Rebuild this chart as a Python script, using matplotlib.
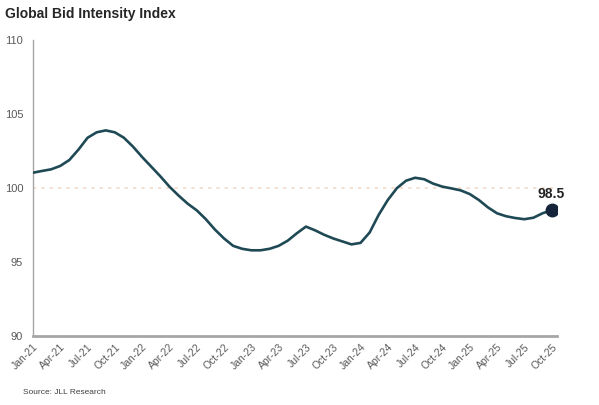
import matplotlib
matplotlib.use("Agg")
import matplotlib.pyplot as plt
import numpy as np

plt.rcParams['font.family'] = ['Liberation Sans', 'DejaVu Sans']

# Monthly index values, Jan-21 .. Oct-25
values = [101.04, 101.16, 101.27, 101.5, 101.9, 102.6, 103.4, 103.77, 103.9, 103.77,
          103.4, 102.8, 102.1, 101.45, 100.8, 100.1, 99.5, 98.95, 98.5, 97.9,
          97.2, 96.6, 96.1, 95.9, 95.8, 95.8, 95.9, 96.1, 96.45, 96.95,
          97.4, 97.15, 96.85, 96.6, 96.4, 96.2, 96.3, 97.0, 98.2, 99.2,
          100.0, 100.5, 100.7, 100.6, 100.3, 100.1, 99.98, 99.85, 99.6, 99.2,
          98.7, 98.3, 98.1, 97.98, 97.9, 98.0, 98.3, 98.5]
tick_labels = ['Jan-21', 'Apr-21', 'Jul-21', 'Oct-21', 'Jan-22', 'Apr-22', 'Jul-22', 'Oct-22',
               'Jan-23', 'Apr-23', 'Jul-23', 'Oct-23', 'Jan-24', 'Apr-24', 'Jul-24', 'Oct-24',
               'Jan-25', 'Apr-25', 'Jul-25', 'Oct-25']
yticks = [90, 95, 100, 105, 110]
baseline = 100
last_label = '98.5'

x = np.arange(len(values))

fig = plt.figure(figsize=(5.99, 4.05), dpi=100)
ax = fig.add_axes([0.055, 0.170, 0.875, 0.731])

ax.axhline(baseline, color='#f2d9c8', lw=1.2, ls=(0, (2, 3)), zorder=1)
ax.plot(x, values, color='#1f4a55', lw=1.9, solid_capstyle='round',
        solid_joinstyle='round', zorder=3)
ax.plot(x[-1], values[-1], 'o', color='#15243a', ms=9, zorder=4)
ax.annotate(last_label, (x[-1], values[-1]), xytext=(0, 7), textcoords='offset points',
            ha='center', va='bottom', fontsize=10, fontweight='bold', color='#222222')

ax.set_ylim(90, 110)
ax.set_yticks(yticks)
ax.set_xlim(0, len(values) - 1 + 0.6)
ax.set_xticks(x[::3])
ax.set_xticklabels(tick_labels, rotation=45, ha='right', va='top', rotation_mode='anchor')
ax.tick_params(axis='both', length=0, labelsize=7.5, colors='#595959')
ax.tick_params(axis='y', labelsize=8, pad=7)
ax.tick_params(axis='x', pad=4)

for s in ['top', 'right']:
    ax.spines[s].set_visible(False)
ax.spines['left'].set_color('#a6a6a6')
ax.spines['left'].set_linewidth(1.0)
ax.spines['bottom'].set_color('#a6a6a6')
ax.spines['bottom'].set_linewidth(2.0)

fig.text(0.008, 0.965, 'Global Bid Intensity Index', fontsize=10, fontweight='bold',
         color='#262626', ha='left', va='center')
fig.text(0.038, 0.030, 'Source: JLL Research', fontsize=6, color='#404040', ha='left', va='center')

fig.savefig('out.png', dpi=100)
